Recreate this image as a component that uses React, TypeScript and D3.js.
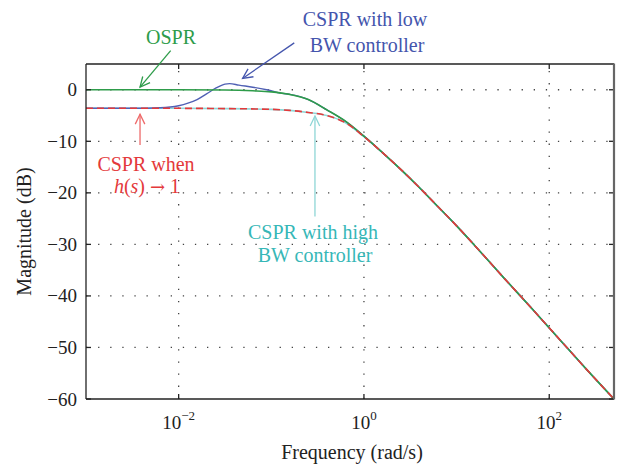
import React from 'react'
import { scaleLog, scaleLinear, line, curveMonotoneX } from 'd3'

// frequency in rad/s, magnitude in dB
const osprFreq = [0.001, 0.01, 0.0316, 0.0631, 0.1, 0.158, 0.251, 0.398, 0.631, 1, 1.585, 2.512, 3.981, 6.31, 10, 15.85, 31.62, 63.1, 125.9, 251.2, 500]
const osprMag = [0, 0, -0.05, -0.2, -0.4, -0.9, -1.9, -3.9, -6.1, -9.0, -12.2, -15.5, -19.0, -22.7, -26.4, -30.3, -36.3, -42.2, -48.2, -54.2, -60]

const lowFreq = [0.001, 0.00316, 0.0063, 0.01, 0.0126, 0.0158, 0.02, 0.0251, 0.0316, 0.0355, 0.0447, 0.0631, 0.0891, 0.126, 0.158, 0.251, 0.398, 0.631, 1, 1.585, 2.512, 3.981, 6.31, 10, 15.85, 31.62, 63.1, 125.9, 251.2, 500]
const lowMag = [-3.6, -3.6, -3.5, -3.1, -2.6, -1.9, -0.8, 0.3, 1.1, 1.2, 0.9, 0.5, 0.0, -0.65, -0.9, -1.9, -3.9, -6.1, -9.0, -12.2, -15.5, -19.0, -22.7, -26.4, -30.3, -36.3, -42.2, -48.2, -54.2, -60]

const highFreq = [0.001, 0.01, 0.0316, 0.1, 0.158, 0.251, 0.398, 0.631, 1, 1.585, 2.512, 3.981, 6.31, 10, 15.85, 31.62, 63.1, 125.9, 251.2, 500]
const highMag = [-3.6, -3.6, -3.65, -3.8, -4.0, -4.4, -5.0, -6.4, -9.1, -12.2, -15.5, -19.0, -22.7, -26.4, -30.3, -36.3, -42.2, -48.2, -54.2, -60]

const idealFreq = [0.001, 0.01, 0.0316, 0.1, 0.158, 0.251, 0.398, 0.631, 1, 1.585, 2.512, 3.981, 6.31, 10, 15.85, 31.62, 63.1, 125.9, 251.2, 500]
const idealMag = [-3.6, -3.6, -3.65, -3.8, -4.0, -4.4, -5.0, -6.4, -9.1, -12.2, -15.5, -19.0, -22.7, -26.4, -30.3, -36.3, -42.2, -48.2, -54.2, -60]

const xTickExp = [-2, 0, 2]
const yTicks = [0, -10, -20, -30, -40, -50, -60]

const GREEN = '#2e9c4a'
const BLUE = '#4455ad'
const RED = '#e4393b'
const CYAN = '#36b7b7'
const FONT = '"Liberation Serif", "DejaVu Serif", serif'

function Arrow({ x1, y1, x2, y2, color }: { x1: number; y1: number; x2: number; y2: number; color: string }) {
  const a = Math.atan2(y2 - y1, x2 - x1)
  const len = 11
  const spread = 0.45
  const p1 = [x2 - len * Math.cos(a - spread), y2 - len * Math.sin(a - spread)]
  const p2 = [x2 - len * Math.cos(a + spread), y2 - len * Math.sin(a + spread)]
  return (
    <g stroke={color} strokeWidth={1.3} fill="none">
      <line x1={x1} y1={y1} x2={x2} y2={y2} />
      <polyline points={`${p1[0]},${p1[1]} ${x2},${y2} ${p2[0]},${p2[1]}`} />
    </g>
  )
}

export default function App() {
  const width = 618
  const height = 468
  const margin = { top: 64, right: 4, bottom: 69, left: 86 }
  const x0 = margin.left
  const x1 = width - margin.right
  const y0 = margin.top
  const y1 = height - margin.bottom

  const x = scaleLog().domain([1e-3, 500]).range([x0, x1])
  const y = scaleLinear().domain([-60, 5]).range([y1, y0])

  const mk = (f: number[], m: number[]) =>
    line<number>()
      .x((_, i) => x(f[i]))
      .y((d) => y(d))
      .curve(curveMonotoneX)(m) || ''

  return (
    <div style={{ position: 'fixed', left: 0, top: 0 }}>
      <svg width={width} height={height} style={{ display: 'block', background: '#fff' }} fontFamily={FONT}>
        {/* grid */}
        <g stroke="#444" strokeWidth={1.3} strokeDasharray="1.3 10.8">
          {yTicks.filter((t) => t !== -60).map((t) => (
            <line key={'gy' + t} x1={x0} x2={x1} y1={y(t)} y2={y(t)} />
          ))}
          {xTickExp.map((e) => (
            <line key={'gx' + e} x1={x(10 ** e)} x2={x(10 ** e)} y1={y1} y2={y0} />
          ))}
        </g>

        {/* curves */}
        <g fill="none" strokeWidth={1.6}>
          <path d={mk(highFreq, highMag)} stroke="#8fd8d8" />
          <path d={mk(lowFreq, lowMag)} stroke="#5060b4" strokeWidth={1.4} />
          <path d={mk(osprFreq, osprMag)} stroke={GREEN} />
          <path d={mk(idealFreq, idealMag)} stroke={RED} strokeDasharray="7 4" />
        </g>

        {/* frame and ticks */}
        <g stroke="#222" strokeWidth={1.3}>
          <line x1={x0} x2={x1} y1={y0} y2={y0} />
          <line x1={x0} x2={x1} y1={y1} y2={y1} />
          <line x1={x0} x2={x0} y1={y0} y2={y1} />
          {yTicks.map((t) => (
            <g key={'ty' + t}>
              <line x1={x0} x2={x0 + 5} y1={y(t)} y2={y(t)} />
              <line x1={x1} x2={x1 - 5} y1={y(t)} y2={y(t)} />
            </g>
          ))}
          {xTickExp.map((e) => (
            <g key={'tx' + e}>
              <line x1={x(10 ** e)} x2={x(10 ** e)} y1={y1} y2={y1 - 5} />
              <line x1={x(10 ** e)} x2={x(10 ** e)} y1={y0} y2={y0 + 5} />
            </g>
          ))}
        </g>
        <line x1={x1} x2={x1} y1={y0 - 0.6} y2={y1 + 0.6} stroke="#666" strokeWidth={2.2} />

        {/* tick labels */}
        <g fontSize={19} fill="#222" textAnchor="end">
          {yTicks.map((t) => (
            <text key={'ly' + t} x={x0 - 9} y={y(t) + 6.5}>
              {t < 0 ? '\u2212' + Math.abs(t) : t}
            </text>
          ))}
        </g>
        <g fill="#222" textAnchor="middle">
          {xTickExp.map((e) => (
            <text key={'lx' + e} x={x(10 ** e)} y={429} fontSize={19}>
              10
              <tspan dy={-9} fontSize={13}>
                {e < 0 ? '\u2212' + Math.abs(e) : e}
              </tspan>
            </text>
          ))}
        </g>

        {/* axis titles */}
        <text x={(x0 + x1) / 2 + 2} y={459} fontSize={20} fill="#222" textAnchor="middle">
          Frequency (rad/s)
        </text>
        <text
          transform={`translate(31, ${(y0 + y1) / 2}) rotate(-90)`}
          fontSize={20}
          fill="#222"
          textAnchor="middle"
        >
          Magnitude (dB)
        </text>

        {/* annotations */}
        <text x={171} y={44} fontSize={20} fill={GREEN} textAnchor="middle">OSPR</text>
        <Arrow x1={x(0.0082)} y1={y(7.6)} x2={x(0.00383)} y2={y(0.5)} color={GREEN} />

        <text x={365} y={26} fontSize={20} fill={BLUE} textAnchor="middle">CSPR with low</text>
        <text x={367} y={51.5} fontSize={20} fill={BLUE} textAnchor="middle">BW controller</text>
        <Arrow x1={x(0.177)} y1={y(9.1)} x2={x(0.049)} y2={y(2.2)} color={BLUE} />

        <text x={146} y={170.5} fontSize={20} fill={RED} textAnchor="middle">CSPR when</text>
        <text x={147} y={192.5} fontSize={20} fill={RED} textAnchor="middle">
          <tspan fontStyle="italic">h</tspan>(<tspan fontStyle="italic">s</tspan>){' '}
          <tspan fontFamily='"DejaVu Serif", serif' fontSize={18}>{'\u2192'}</tspan> 1
        </text>
        <Arrow x1={x(0.00383)} y1={y(-10.7)} x2={x(0.00383)} y2={y(-4.75)} color="#ee6a6a" />

        <text x={313} y={239} fontSize={20} fill={CYAN} textAnchor="middle">CSPR with high</text>
        <text x={315} y={261.5} fontSize={20} fill={CYAN} textAnchor="middle">BW controller</text>
        <Arrow x1={x(0.296)} y1={y(-24.6)} x2={x(0.296)} y2={y(-5.1)} color="#8ed6d6" />
      </svg>
    </div>
  )
}
